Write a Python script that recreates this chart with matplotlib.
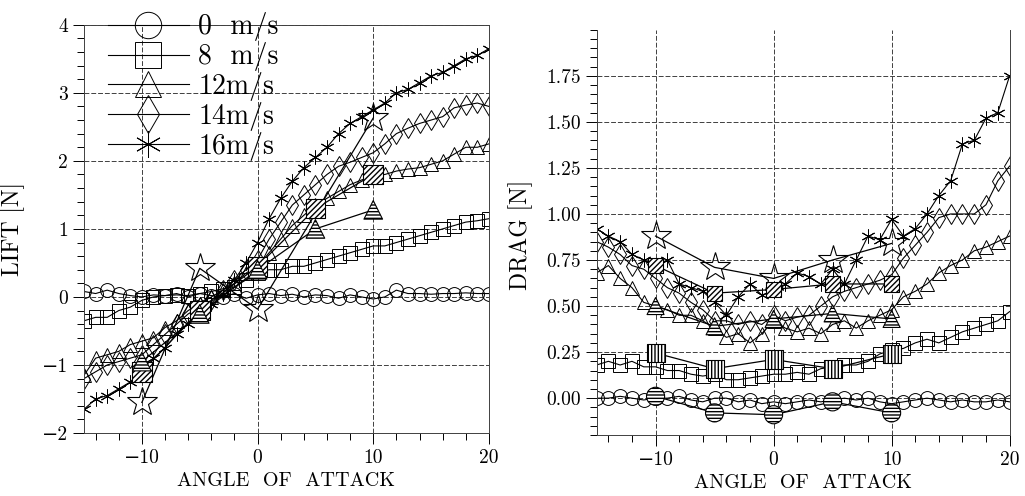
import numpy as np
import matplotlib.pyplot as plt
from matplotlib.ticker import MultipleLocator, FixedLocator

plt.rcParams['font.family'] = ['cmr10', 'DejaVu Serif']
plt.rcParams['axes.unicode_minus'] = True

angles = list(range(-15, 21))
labels = ['0  m/s', '8  m/s', '12m/s', '14m/s', '16m/s']

# lift [N]
lift_0 = [0.08, 0.05, 0.10, 0.05, 0.02, 0.00, 0.03, 0.02, 0.05, 0.00, 0.05, 0.02,
          0.00, 0.05, -0.02, 0.03, 0.05, 0.02, 0.04, 0.00, 0.03, 0.02, -0.02, 0.03,
          0.00, -0.03, 0.00, 0.10, 0.05, 0.05, 0.04, 0.05, 0.05, 0.06, 0.05, 0.05]
lift_8 = [-0.35, -0.30, -0.30, -0.20, -0.15, -0.05, 0.00, 0.02, 0.03, 0.02, 0.05, 0.08,
          0.12, 0.15, 0.25, 0.35, 0.40, 0.40, 0.45, 0.45, 0.50, 0.55, 0.60, 0.65,
          0.70, 0.75, 0.75, 0.80, 0.85, 0.90, 0.95, 1.00, 1.05, 1.10, 1.12, 1.15]
lift_12 = [-1.15, -0.90, -0.85, -0.80, -0.70, -0.65, -0.60, -0.45, -0.35, -0.20, -0.10, 0.00,
           0.10, 0.20, 0.35, 0.45, 0.65, 0.85, 1.05, 1.20, 1.35, 1.45, 1.55, 1.65,
           1.72, 1.78, 1.80, 1.85, 1.88, 1.90, 1.95, 2.00, 2.10, 2.20, 2.20, 2.25]
lift_14 = [-1.20, -1.10, -1.00, -0.95, -0.90, -0.85, -0.70, -0.55, -0.40, -0.25, -0.15, -0.05,
           0.10, 0.25, 0.40, 0.55, 0.85, 1.10, 1.35, 1.50, 1.65, 1.80, 1.92, 1.98,
           2.05, 2.12, 2.25, 2.40, 2.48, 2.55, 2.60, 2.65, 2.78, 2.82, 2.85, 2.80]
lift_16 = [-1.65, -1.50, -1.45, -1.35, -1.25, -1.07, -0.90, -0.75, -0.55, -0.40, -0.25, -0.10,
           0.05, 0.25, 0.50, 0.80, 1.15, 1.45, 1.70, 1.90, 2.05, 2.20, 2.40, 2.55,
           2.65, 2.75, 2.85, 3.00, 3.05, 3.15, 3.25, 3.30, 3.40, 3.50, 3.55, 3.65]

# drag [N]
drag_0 = [0.00, 0.00, 0.01, 0.00, -0.01, 0.00, 0.00, 0.01, -0.01, -0.02, 0.00, 0.00,
          -0.02, -0.01, -0.03, -0.02, -0.03, -0.02, -0.01, -0.02, -0.01, 0.00, -0.01, 0.00,
          -0.02, -0.03, -0.02, -0.01, 0.00, -0.01, -0.02, -0.01, -0.02, -0.02, -0.01, -0.02]
drag_8 = [0.18, 0.20, 0.18, 0.20, 0.17, 0.17, 0.15, 0.15, 0.13, 0.12, 0.13, 0.10,
          0.10, 0.11, 0.12, 0.13, 0.13, 0.14, 0.13, 0.16, 0.17, 0.18, 0.18, 0.20,
          0.24, 0.26, 0.27, 0.30, 0.32, 0.30, 0.33, 0.36, 0.38, 0.40, 0.42, 0.47]
drag_12 = [0.68, 0.72, 0.65, 0.60, 0.52, 0.50, 0.48, 0.45, 0.45, 0.42, 0.38, 0.33,
           0.35, 0.30, 0.35, 0.42, 0.38, 0.36, 0.38, 0.35, 0.40, 0.42, 0.38, 0.42,
           0.45, 0.48, 0.55, 0.58, 0.62, 0.68, 0.72, 0.75, 0.80, 0.82, 0.85, 0.88]
drag_14 = [0.85, 0.82, 0.78, 0.72, 0.70, 0.65, 0.60, 0.57, 0.52, 0.48, 0.42, 0.42,
           0.40, 0.42, 0.40, 0.45, 0.42, 0.44, 0.45, 0.50, 0.55, 0.58, 0.60, 0.62,
           0.64, 0.67, 0.76, 0.83, 0.90, 0.98, 1.00, 1.00, 1.00, 1.05, 1.18, 1.26]
drag_16 = [0.92, 0.88, 0.85, 0.78, 0.75, 0.72, 0.75, 0.62, 0.60, 0.58, 0.52, 0.45,
           0.55, 0.62, 0.56, 0.58, 0.62, 0.68, 0.66, 0.62, 0.70, 0.62, 0.75, 0.88,
           0.86, 0.97, 0.88, 0.92, 1.00, 1.10, 1.18, 1.38, 1.40, 1.52, 1.55, 1.75]

# coarse reference points (stars / hatched markers)
ref_angles = [-10, -5, 0, 5, 10]
lift_star_angles = [-10, -5, 0, 10]
lift_star = [-1.55, 0.42, -0.18, 2.63]
lift_hatch_sq = [-1.10, -0.20, 0.45, 1.30, 1.80]
lift_hatch_tri = [-0.95, -0.25, 0.40, 1.00, 1.28]
drag_star = [0.88, 0.71, 0.65, 0.75, 0.84]
drag_hatch_circ = [0.01, -0.08, -0.09, -0.02, -0.08]
drag_hatch_sq = [0.245, 0.16, 0.21, 0.16, 0.24]
drag_hatch_tri = [0.50, 0.39, 0.43, 0.46, 0.43]
drag_hatch_dia = [0.72, 0.57, 0.59, 0.62, 0.62]

markers = ['o', 's', '^', 'd', (6, 2, 0)]

fig = plt.figure(figsize=(10.25, 4.96), dpi=100)
ax1 = fig.add_axes([0.082, 0.127, 0.395, 0.823])
ax2 = fig.add_axes([0.582, 0.123, 0.403, 0.817])

def style(ax):
    ax.set_xlim(-15, 20)
    ax.xaxis.set_major_locator(FixedLocator([-10, 0, 10, 20]))
    ax.xaxis.set_minor_locator(MultipleLocator(2))
    ax.grid(True, which='major', color='0.25', linestyle=(0, (5, 2)), linewidth=0.7)
    ax.tick_params(which='major', direction='out', length=8, width=0.7, labelsize=14)
    ax.tick_params(which='minor', direction='out', length=5, width=0.7)
    for s in ax.spines.values():
        s.set_linewidth(0.7)
        s.set_color('0.25')
    ax.set_xlabel('ANGLE  OF  ATTACK', fontsize=14.5)

lines = []
for ax, series in [(ax1, [lift_0, lift_8, lift_12, lift_14, lift_16]),
                   (ax2, [drag_0, drag_8, drag_12, drag_14, drag_16])]:
    for vals, m, lab in zip(series, markers, labels):
        ln, = ax.plot(angles, vals, color='k', lw=0.8, marker=m, ms=10,
                      mfc='none', mec='k', mew=0.7, label=lab)
        if ax is ax1:
            lines.append(ln)
    style(ax)

def hatched(ax, xs, ys, m, h, s):
    ax.plot(xs, ys, color='k', lw=0.9)
    ax.scatter(xs, ys, marker=m, s=s, facecolor='white', edgecolor='k',
               hatch=h, linewidths=0.8, zorder=4)

# lift extras
ax1.plot(lift_star_angles, lift_star, color='k', lw=0.9, marker='*', ms=22,
         mfc='none', mec='k', mew=0.8)
hatched(ax1, ref_angles, lift_hatch_sq, 's', '//////', 200)
hatched(ax1, ref_angles, lift_hatch_tri, '^', '-----', 180)

# drag extras
ax2.plot(ref_angles, drag_star, color='k', lw=0.9, marker='*', ms=22,
         mfc='none', mec='k', mew=0.8)
hatched(ax2, ref_angles, drag_hatch_circ, 'o', '-----', 170)
hatched(ax2, ref_angles, drag_hatch_sq, 's', '|||||', 170)
hatched(ax2, ref_angles, drag_hatch_tri, '^', '-----', 150)
hatched(ax2, ref_angles, drag_hatch_dia, 's', '//////', 120)

ax1.set_ylim(-2, 4)
ax1.yaxis.set_major_locator(MultipleLocator(1))
ax1.yaxis.set_minor_locator(MultipleLocator(0.2))
ax1.set_ylabel('LIFT [N]', fontsize=17)
ax1.yaxis.set_label_coords(-0.146, 0.5)

ax2.set_ylim(-0.2, 2.0)
ax2.yaxis.set_major_locator(FixedLocator([0, 0.25, 0.5, 0.75, 1.0, 1.25, 1.5, 1.75]))
ax2.yaxis.set_minor_locator(MultipleLocator(0.05))
ax2.yaxis.set_major_formatter(plt.FormatStrFormatter('%.2f'))
ax2.spines['top'].set_visible(False)
ax2.set_ylabel('DRAG [N]', fontsize=17)
ax2.yaxis.set_label_coords(-0.155, 0.494)

leg = ax1.legend(handles=lines, loc='upper left', bbox_to_anchor=(0.092, 1.003),
                 bbox_transform=fig.transFigure, frameon=False, fontsize=20,
                 handlelength=2.9, handletextpad=0.35, labelspacing=0.03,
                 markerscale=1.9, borderpad=0)
leg.set_zorder(10)

fig.savefig('out.png', dpi=100)
